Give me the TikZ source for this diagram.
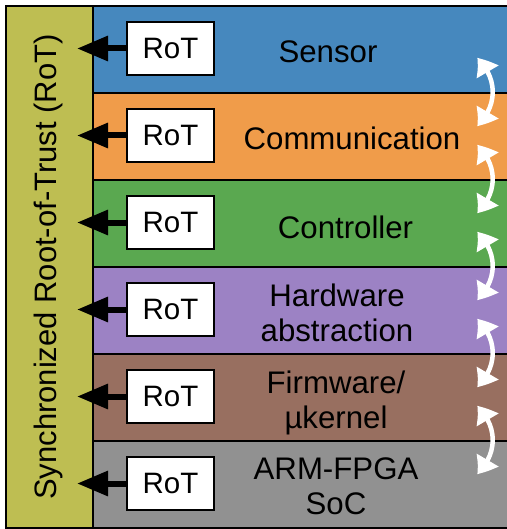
\documentclass[tikz,border=0pt]{standalone}
\usepackage{fontspec}
\setmainfont{Liberation Sans}
\usetikzlibrary{arrows.meta,bending}
\definecolor{cSensor}{RGB}{70,136,190}
\definecolor{cComm}{RGB}{240,156,74}
\definecolor{cCtrl}{RGB}{90,168,80}
\definecolor{cHw}{RGB}{156,130,196}
\definecolor{cFw}{RGB}{152,111,96}
\definecolor{cSoc}{RGB}{145,145,145}
\definecolor{cRoot}{RGB}{190,190,82}
\begin{document}
\begin{tikzpicture}[x=1pt,y=-1pt,
  layer/.style={draw=black,line width=2pt,minimum width=420pt,minimum height=87pt,anchor=north west,inner sep=0pt},
  lbl/.style={font=\fontsize{31.2}{35}\selectfont,align=center,inner sep=0pt,anchor=base},
  rotbox/.style={draw=black,line width=1.5pt,fill=white,minimum width=87pt,minimum height=53pt,inner sep=0pt,font=\fontsize{29.5}{34}\selectfont},
  rotarrow/.style={line width=6pt,-{Triangle[length=31pt,width=24pt]}},
  syncarrow/.style={white,line width=4.5pt,{Triangle[length=18pt,width=24pt,bend]}-{Triangle[length=18pt,width=24pt,bend]}}]
\useasboundingbox (0,0) rectangle (506,529);
% layers
\node[layer,fill=cSensor] (L1) at (92,5) {};
\node[layer,fill=cComm]   (L2) at (92,92) {};
\node[layer,fill=cCtrl]   (L3) at (92,179) {};
\node[layer,fill=cHw]     (L4) at (92,266) {};
\node[layer,fill=cFw]     (L5) at (92,353) {};
\node[layer,fill=cSoc]    (L6) at (92,440) {};
% root column
\node[draw=black,line width=2pt,fill=cRoot,minimum width=87pt,minimum height=522pt,anchor=north west,inner sep=0pt] (S) at (5,5) {};
\node[rotate=90,font=\fontsize{31}{34}\selectfont,inner sep=0pt] (St) at ([xshift=-1pt]S.center) {Synchronized Root-of-Trust (RoT)};
% layer labels
\node[lbl] (t1) at (328,63) {Sensor};
\node[lbl] (t2) at (352,150) {Communication};
\node[lbl] (t3) at (345.5,238) {Controller};
\node[lbl] (t4) at (337,341) {Hardware\\abstraction};
\node[lbl] (t5) at (336,428) {Firmware/\\µkernel};
\node[lbl] (t6) at (336,514) {ARM-FPGA\\SoC};
% RoT boxes and arrows
\foreach \i/\y in {1/48.5,2/135.5,3/222.5,4/309.5,5/396.5,6/483.5}{
  \node[rotbox] (R\i) at (170.5,\y) {RoT};
  \coordinate (T\i) at (77,\y);
  \draw[rotarrow] (R\i.west) -- (T\i);
}
% synchronization arrows
\foreach \i/\y in {1/92,2/179,3/266,4/353,5/440}{
  \coordinate (a\i) at (477,\y-34);
  \coordinate (b\i) at (477,\y+34);
  \draw[syncarrow] (a\i) .. controls (498,\y-14) and (498,\y+14) .. (b\i);
}
\end{tikzpicture}
\end{document}
